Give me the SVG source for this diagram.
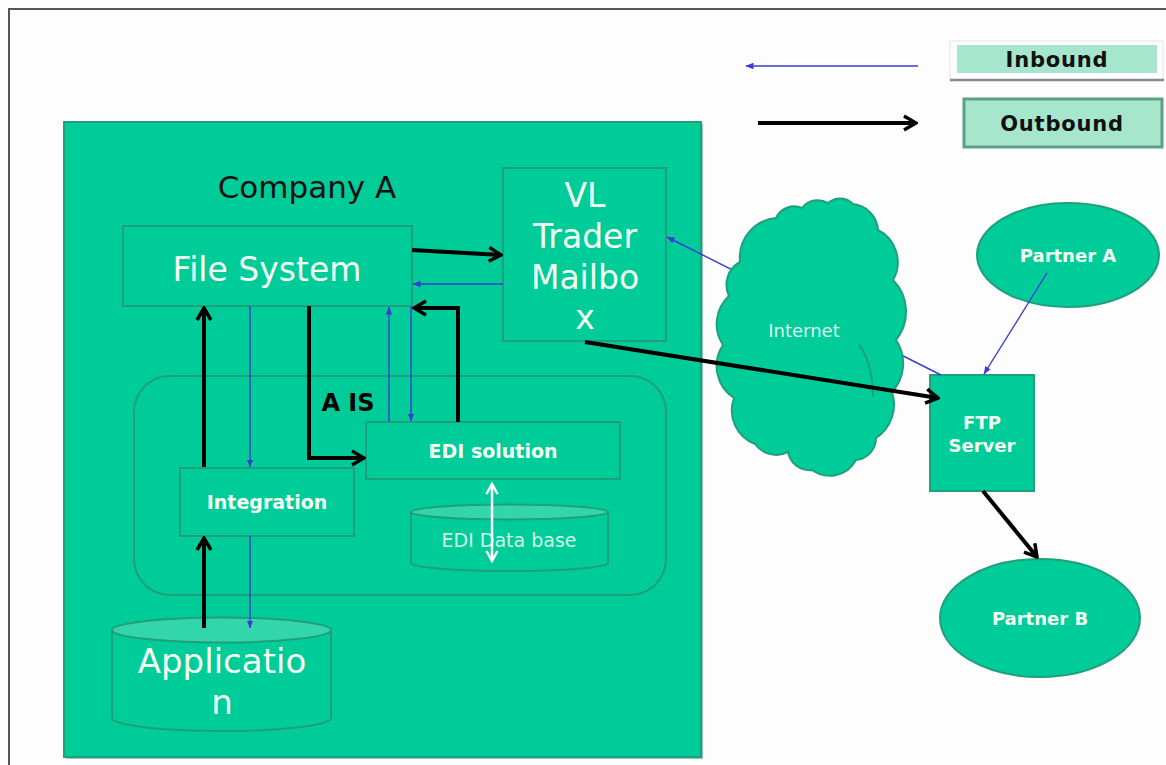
<svg xmlns="http://www.w3.org/2000/svg" width="1166" height="765" viewBox="0 0 1166 765">
  <defs>
    <marker id="headBlack" markerUnits="userSpaceOnUse" viewBox="0 0 16 18" markerWidth="16" markerHeight="18" refX="14" refY="9" orient="auto">
      <path d="M2,2 L14,9 L2,16" fill="none" stroke="#000" stroke-width="3.5" stroke-linejoin="miter"/>
    </marker>
    <marker id="headBlue" markerUnits="userSpaceOnUse" viewBox="0 0 8 8" markerWidth="8" markerHeight="8" refX="7.5" refY="4" orient="auto">
      <path d="M0,0.8 L8,4 L0,7.2 Z" fill="#3b3bd6"/>
    </marker>
    <marker id="headWhite" markerUnits="userSpaceOnUse" viewBox="0 0 14 14" markerWidth="14" markerHeight="14" refX="12" refY="7" orient="auto-start-reverse">
      <path d="M2,1.5 L12,7 L2,12.5" fill="none" stroke="#fff" stroke-width="2.5"/>
    </marker>
  </defs>
  <style>
    .box { fill: #00cc99; stroke: #1f9f7b; stroke-width: 2; }
    .lid { fill: #33d6aa; stroke: #1f9f7b; stroke-width: 2; }
    .txt { font-family: "DejaVu Sans", Verdana, sans-serif; fill: #f4fff2; text-anchor: middle; }
    .big { font-size: 33px; }
    .bold { font-weight: bold; }
    .mid { font-size: 19px; }
    .sm { font-size: 18px; }
    .out { fill: none; stroke: #000; stroke-width: 4; marker-end: url(#headBlack); }
    .in { fill: none; stroke: #3b3bd6; stroke-width: 1.4; marker-end: url(#headBlue); }
    .legend { font-family: "DejaVu Sans", Verdana, sans-serif; font-weight: bold; font-size: 21px; fill: #111; text-anchor: middle; letter-spacing: 0.8px; }
  </style>

  <rect width="1166" height="765" fill="#fdfdfd"/>
  <!-- page frame -->
  <path d="M9,765 V9 H1166" fill="none" stroke="#555" stroke-width="2"/>

  <!-- legend -->
  <g id="legend">
    <line x1="918" y1="66" x2="746" y2="66" class="in"/>
    <line x1="758" y1="123" x2="916" y2="123" class="out"/>
    <rect x="950" y="41" width="213" height="39" fill="#fff" stroke="#e4e4e4" stroke-width="1"/>
    <line x1="950" y1="80" x2="1164" y2="80" stroke="#8a8a8a" stroke-width="2.5"/>
    <rect x="957" y="45" width="200" height="28" fill="#a6e6cc"/>
    <text x="1057" y="67" class="legend">Inbound</text>
    <rect x="964" y="99" width="198" height="48" fill="#a6e6cc" stroke="#5c9f84" stroke-width="3"/>
    <text x="1062" y="131" class="legend">Outbound</text>
  </g>

  <!-- Company A boundary -->
  <g id="company-a">
    <rect x="66" y="124" width="637" height="635" fill="#1a9c78" opacity="0.5"/>
    <rect x="64" y="122" width="637" height="635" class="box"/>
    <text x="307" y="198" font-family="DejaVu Sans, Verdana, sans-serif" font-size="31" fill="#111" text-anchor="middle">Company A</text>
  </g>

  <!-- AIS container -->
  <g id="ais">
    <rect x="134" y="376" width="532" height="219" rx="36" ry="36" class="box"/>
    <text x="348" y="411" font-family="DejaVu Sans, Verdana, sans-serif" font-weight="bold" font-size="24" fill="#000" text-anchor="middle">A IS</text>
  </g>

  <g id="file-system">
    <rect x="123" y="226" width="289" height="80" class="box"/>
    <text x="267" y="281" class="txt big">File System</text>
  </g>

  <g id="vl-trader-mailbox">
    <rect x="503" y="168" width="163" height="173" class="box"/>
    <text x="585" y="207" class="txt big">VL</text>
    <text x="585" y="248" class="txt big">Trader</text>
    <text x="585" y="289" class="txt big">Mailbo</text>
    <text x="585" y="329" class="txt big">x</text>
  </g>

  <g id="edi-solution">
    <rect x="366" y="422" width="254" height="57" class="box"/>
    <text x="493" y="458" class="txt bold mid">EDI solution</text>
  </g>

  <g id="integration">
    <rect x="180" y="468" width="174" height="68" class="box"/>
    <text x="267" y="509" class="txt bold mid">Integration</text>
  </g>

  <g id="edi-database">
    <path d="M411,512 V563 A98.5,8 0 0 0 608,563 V512 Z" class="box"/>
    <ellipse cx="509.5" cy="512" rx="98.5" ry="7.5" class="lid"/>
    <text x="509" y="547" class="txt mid" style="fill:#d2f5e6">EDI Data base</text>
  </g>

  <g id="application">
    <path d="M112,630 V718 A109.5,13 0 0 0 331,718 V630 Z" class="box"/>
    <ellipse cx="221.5" cy="630" rx="109.5" ry="12.5" class="lid"/>
    <text x="222" y="673" class="txt" font-size="34">Applicatio</text>
    <text x="222" y="714" class="txt" font-size="34">n</text>
  </g>

  <g id="ftp-server">
    <rect x="930" y="375" width="104" height="116" class="box"/>
    <text x="982" y="429" class="txt bold sm">FTP</text>
    <text x="982" y="452" class="txt bold sm">Server</text>
  </g>

  <g id="partner-a">
    <ellipse cx="1068" cy="255" rx="91" ry="52" class="box"/>
    <text x="1068" y="262" class="txt bold sm">Partner A</text>
  </g>

  <g id="partner-b">
    <ellipse cx="1040" cy="618" rx="100" ry="59" class="box"/>
    <text x="1040" y="625" class="txt bold sm">Partner B</text>
  </g>

  <!-- inbound path from the FTP server runs behind the cloud -->
  <g id="connectors-behind">
    <line x1="941" y1="375" x2="667" y2="237" class="in"/>
  </g>

  <g id="internet">
    <path d="M740,262 A40,40 0 0 1 776,218 A20,20 0 0 1 802,208 A20,20 0 0 1 828,203 A18,18 0 0 1 853,204 A28,28 0 0 1 878,230 A36,36 0 0 1 893,280 A45,45 0 0 1 896,340 A42,42 0 0 1 892,392 A40,40 0 0 1 876,438 A22,22 0 0 1 856,460 A30,30 0 0 1 812,470 A22,22 0 0 1 788,452 A26,26 0 0 1 755,444 A36,36 0 0 1 734,398 A38,38 0 0 1 723,345 A38,38 0 0 1 729,296 A26,26 0 0 1 740,262 Z" fill="#00cc99" stroke="#1f9f7b" stroke-width="2"/>
    <path d="M859,344 Q873,365 873,397" fill="none" stroke="#1f9f7b" stroke-width="2"/>
    <text x="804" y="337" class="txt" font-size="18" style="fill:#dcf8ec">Internet</text>
  </g>

  <g id="connectors">
    <!-- outbound (black) -->
    <line x1="412" y1="250" x2="501" y2="255" class="out"/>
    <line x1="204" y1="467" x2="204" y2="308" class="out"/>
    <line x1="204" y1="628" x2="204" y2="538" class="out"/>
    <path d="M309,306 V458 H364" class="out"/>
    <path d="M458,422 V308 H414" class="out"/>
    <line x1="585" y1="342" x2="938" y2="398" class="out"/>
    <line x1="983" y1="491" x2="1037" y2="557" class="out"/>
    <!-- inbound (blue) -->
    <line x1="503" y1="284" x2="413" y2="284" class="in"/>
    <line x1="250" y1="306" x2="250" y2="467" class="in"/>
    <line x1="250" y1="536" x2="250" y2="628" class="in"/>
    <line x1="389" y1="422" x2="389" y2="307" class="in"/>
    <line x1="411" y1="306" x2="411" y2="421" class="in"/>
    <line x1="1047" y1="273" x2="984" y2="374" class="in"/>
    <!-- EDI solution to database, both ways -->
    <line x1="492" y1="484" x2="492" y2="561" fill="none" stroke="#fff" stroke-width="2.5" marker-start="url(#headWhite)" marker-end="url(#headWhite)"/>
  </g>
</svg>
